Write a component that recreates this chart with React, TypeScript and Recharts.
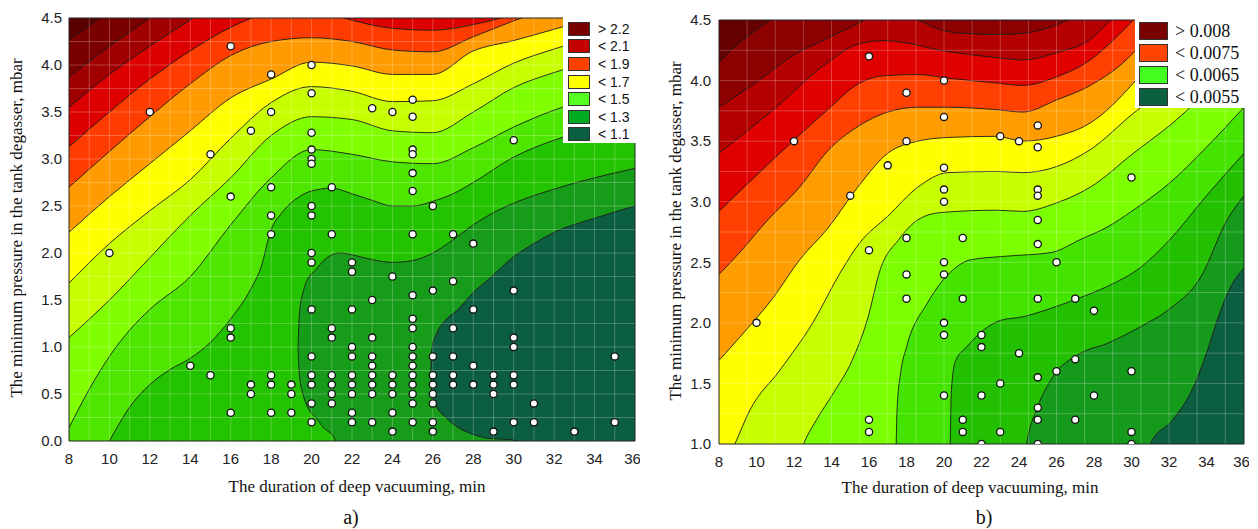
import { ComposedChart, Area, Scatter, XAxis, YAxis, ReferenceLine } from 'recharts'

type Pt = [number, number]
type Rng = [number, number, number]

const xTicks = [8, 10, 12, 14, 16, 18, 20, 22, 24, 26, 28, 30, 32, 34, 36]

// ---------- a) contour lines: [duration, pressure] ----------
const aYTicks = [0, 0.5, 1, 1.5, 2, 2.5, 3, 3.5, 4, 4.5]
const aTop: Pt[] = [[8, 5], [36, 5]]
const aLevel1: Pt[] = [[8, 4.27], [9, 4.42], [10, 4.58], [11, 4.75], [36, 5.3]]
const aLevel2: Pt[] = [[8, 3.87], [10, 4.2], [12, 4.5], [13, 4.66], [36, 5.3]]
const aLevel3: Pt[] = [[8, 3.55], [10, 3.9], [12, 4.2], [14, 4.48], [15, 4.62], [36, 5.3]]
const aLevel4: Pt[] = [[8, 3.13], [10, 3.5], [12, 3.85], [14, 4.15], [16, 4.4], [18, 4.56], [20, 4.6], [21.6, 4.5], [24, 4.39], [26, 4.37], [28, 4.43], [30, 4.54], [32, 4.7], [36, 4.9]]
const aLevel5: Pt[] = [[8, 2.7], [10, 3.08], [12, 3.45], [14, 3.8], [16, 4.1], [18, 4.25], [20, 4.29], [22, 4.25], [24, 4.16], [26, 4.14], [28, 4.3], [30, 4.47], [32, 4.62], [34, 4.75], [36, 4.85]]
const aLevel6: Pt[] = [[8, 2.22], [10, 2.6], [12, 2.95], [14, 3.3], [16, 3.65], [18, 3.85], [20, 4.03], [22, 3.99], [24, 3.9], [26, 3.9], [28, 4.15], [30, 4.26], [32, 4.38], [34, 4.5], [36, 4.6]]
const aLevel7: Pt[] = [[8, 1.68], [10, 2.1], [12, 2.45], [14, 2.78], [16, 3.22], [18, 3.6], [20, 3.77], [22, 3.72], [24, 3.61], [26, 3.62], [28, 3.8], [30, 4.02], [32, 4.17], [34, 4.3], [36, 4.4]]
const aLevel8: Pt[] = [[8, 1.1], [10, 1.5], [12, 1.95], [14, 2.4], [16, 2.8], [18, 3.25], [20, 3.45], [22, 3.42], [24, 3.3], [26, 3.28], [28, 3.5], [30, 3.76], [32, 3.92], [34, 4.05], [36, 4.15]]
const aLevel9: Pt[] = [[8, 0.14], [9, 0.55], [10, 0.9], [11, 1.18], [12, 1.4], [14, 1.75], [16, 2.3], [18, 2.8], [20, 3.1], [22, 3.05], [24, 2.97], [26, 2.95], [28, 3.12], [30, 3.34], [32, 3.52], [34, 3.65], [36, 3.75]]
const aLevel10: Pt[] = [[9, -0.4], [10, 0], [11, 0.36], [12, 0.6], [13, 0.76], [14, 0.88], [15, 1.05], [16, 1.3], [17, 1.62], [17.5, 1.85], [18, 2.25], [18.5, 2.42], [19.4, 2.6], [20, 2.66], [21, 2.69], [22, 2.63], [23, 2.56], [24, 2.5], [25, 2.5], [26, 2.55], [27, 2.63], [28, 2.75], [30, 3.02], [32, 3.2], [34, 3.32], [36, 3.4]]
// closed regions: [duration, low, high]
const aBlob: Rng[] = [[19.33, 1.0, 1.0], [19.4, 0.7, 1.35], [19.6, 0.48, 1.6], [19.8, 0.36, 1.72], [20.2, 0.25, 1.82], [20.6, 0.14, 1.92], [21, 0.07, 1.98], [21.4, -0.05, 2.0], [22, -0.05, 1.98], [23, -0.05, 1.93], [24, -0.05, 1.9], [25, -0.05, 1.92], [26, -0.05, 2.0], [27, -0.05, 2.14], [28, -0.05, 2.3], [29, -0.05, 2.43], [30, -0.05, 2.53], [32, -0.05, 2.68], [34, -0.05, 2.8], [36, -0.05, 2.9]]
const aCore: Rng[] = [[25.9, 0.75, 0.75], [25.95, 0.5, 0.98], [26.2, 0.36, 1.15], [26.6, 0.26, 1.28], [27.2, 0.15, 1.39], [28, 0.07, 1.58], [28.7, 0.03, 1.71], [30, 0.01, 1.96], [31, -0.05, 2.1], [32, -0.05, 2.22], [34, -0.05, 2.37], [36, -0.05, 2.5]]
const aColors = ['#5a0000', '#7a0000', '#a20000', '#dc0000', '#ff3c00', '#ff9a00', '#ffff00', '#c8ff00', '#80ff00', '#4ee600', '#24c300']
const aBlobColors = ['#179c1a', '#0b5e40']

const aPoints: Pt[] = [
  [10, 2.0], [12, 3.5], [14, 0.8], [15, 3.05], [15, 0.7],
  [16, 4.2], [16, 2.6], [16, 1.2], [16, 1.1], [16, 0.3],
  [17, 3.3], [17, 0.6], [17, 0.5],
  [18, 3.9], [18, 3.5], [18, 2.7], [18, 2.4], [18, 2.2], [18, 0.7], [18, 0.6], [18, 0.3],
  [19, 0.6], [19, 0.5], [19, 0.3],
  [20, 4.0], [20, 3.7], [20, 3.28], [20, 3.1], [20, 3.0], [20, 2.95], [20, 2.5], [20, 2.4], [20, 2.0], [20, 1.9], [20, 1.4], [20, 0.9], [20, 0.7], [20, 0.6], [20, 0.4], [20, 0.2],
  [21, 2.7], [21, 2.2], [21, 1.2], [21, 1.1], [21, 0.7], [21, 0.6], [21, 0.5], [21, 0.4],
  [22, 1.9], [22, 1.8], [22, 1.4], [22, 1.0], [22, 0.9], [22, 0.7], [22, 0.6], [22, 0.5], [22, 0.3], [22, 0.2],
  [23, 3.54], [23, 1.5], [23, 1.1], [23, 0.9], [23, 0.8], [23, 0.7], [23, 0.6], [23, 0.5], [23, 0.2],
  [24, 3.5], [24, 1.75], [24, 0.7], [24, 0.6], [24, 0.5], [24, 0.3], [24, 0.1],
  [25, 3.63], [25, 3.45], [25, 3.1], [25, 3.05], [25, 2.85], [25, 2.66], [25, 2.2], [25, 1.55], [25, 1.3], [25, 1.2], [25, 1.0], [25, 0.9], [25, 0.8], [25, 0.7], [25, 0.6], [25, 0.5], [25, 0.4], [25, 0.2],
  [26, 2.5], [26, 1.6], [26, 0.9], [26, 0.7], [26, 0.6], [26, 0.5], [26, 0.4], [26, 0.2], [26, 0.1],
  [27, 2.2], [27, 1.7], [27, 1.2], [27, 0.9], [27, 0.7], [27, 0.6],
  [28, 2.1], [28, 1.4], [28, 0.8], [28, 0.6],
  [29, 0.7], [29, 0.6], [29, 0.5], [29, 0.1],
  [30, 3.2], [30, 1.6], [30, 1.1], [30, 1.0], [30, 0.7], [30, 0.6], [30, 0.2],
  [31, 0.4], [31, 0.2], [33, 0.1], [35, 0.9], [35, 0.2],
]
const aLegendLabels = ['> 2.2', '< 2.1', '< 1.9', '< 1.7', '< 1.5', '< 1.3', '< 1.1']
const aLegendColors = ['#7a0000', '#c40000', '#ff4000', '#ffff00', '#55ff22', '#00aa22', '#0b5e40']

// ---------- b) contour lines ----------
const bYTicks = [1, 1.5, 2, 2.5, 3, 3.5, 4, 4.5]
const bTop: Pt[] = [[8, 5], [36, 5]]
const bLevel1: Pt[] = [[8, 4.15], [9, 4.3], [10, 4.42], [11, 4.53], [12, 4.65], [36, 5.3]]
const bLevel2: Pt[] = [[8, 3.78], [9.65, 3.95], [12.2, 4.23], [13.8, 4.35], [15.4, 4.47], [16.5, 4.55], [17.5, 4.56], [18.6, 4.5], [19.8, 4.42], [21, 4.39], [22.8, 4.38], [24.2, 4.39], [26, 4.46], [27, 4.53], [28, 4.62], [36, 5.2]]
const bLevel3: Pt[] = [[8, 3.4], [10.9, 3.76], [13.8, 4.15], [15.4, 4.3], [16.8, 4.33], [18, 4.31], [19.8, 4.25], [22.8, 4.19], [24.2, 4.17], [26, 4.23], [27.8, 4.34], [28.9, 4.5], [30, 4.65], [36, 5.2]]
const bLevel4: Pt[] = [[8, 2.92], [10.9, 3.35], [13.8, 3.76], [15.4, 3.97], [16.8, 4.04], [18.6, 4.05], [20.2, 4.02], [22.8, 3.98], [24.2, 3.96], [26, 4.03], [27.8, 4.17], [29.2, 4.36], [30.1, 4.5], [31, 4.65], [36, 5.2]]
const bLevel5: Pt[] = [[8, 2.4], [9.1, 2.58], [10.6, 2.85], [12.3, 3.12], [13.8, 3.42], [15.4, 3.62], [17, 3.74], [18.6, 3.78], [20.2, 3.78], [22.8, 3.76], [24.2, 3.74], [26, 3.84], [27.8, 3.96], [30.1, 4.23], [31.1, 4.42], [32, 4.58], [36, 5.1]]
const bLevel6: Pt[] = [[8, 1.69], [9.1, 1.88], [10.9, 2.21], [12.3, 2.52], [13.8, 2.78], [15.4, 3.12], [17, 3.4], [18.6, 3.5], [20.2, 3.53], [22.8, 3.54], [24.2, 3.5], [26, 3.54], [27.8, 3.65], [30.1, 3.98], [31.1, 4.17], [32, 4.35], [33, 4.55], [36, 5.0]]
const bLevel7: Pt[] = [[8, 0.7], [8.85, 1.0], [9.65, 1.28], [11.25, 1.61], [13, 2.0], [14.45, 2.41], [15.5, 2.66], [17, 2.88], [18.6, 3.12], [20.2, 3.24], [22.8, 3.25], [24.2, 3.24], [26, 3.29], [27.8, 3.43], [30.1, 3.73], [32.2, 3.98], [34, 4.25], [36, 4.5]]
const bLevel8: Pt[] = [[12, 0.8], [12.5, 1.0], [13.2, 1.2], [14.1, 1.42], [15.1, 1.69], [15.9, 2.02], [16.6, 2.44], [17.6, 2.69], [18.6, 2.85], [19.8, 2.91], [22.8, 2.93], [24.2, 2.92], [26, 2.99], [27.8, 3.12], [30.1, 3.4], [32.2, 3.65], [34, 3.9], [36, 4.15]]
const bLevel9: Pt[] = [[17.4, 0.6], [17.45, 1.0], [17.5, 1.3], [17.7, 1.6], [18, 1.8], [19.1, 2.16], [20.5, 2.44], [21.4, 2.52], [23.3, 2.55], [25.7, 2.58], [27.3, 2.69], [28.7, 2.79], [30, 2.92], [32, 3.15], [34, 3.45], [36, 3.78]]
const bLevel10: Pt[] = [[20.3, 0.7], [20.33, 1.0], [20.4, 1.45], [20.6, 1.68], [21.2, 1.8], [23, 2.02], [24.2, 2.05], [25.7, 2.12], [27.3, 2.21], [28.7, 2.3], [30.5, 2.46], [32, 2.68], [34, 3.05], [36, 3.4]]
const bLevel11: Pt[] = [[24.2, 0.8], [24.4, 1.0], [25, 1.31], [25.7, 1.53], [27.3, 1.75], [28.7, 1.83], [30.5, 1.97], [31.9, 2.1], [33.7, 2.38], [35.1, 2.85], [36, 3.05]]
const bLevel12: Pt[] = [[30.6, 0.8], [31, 1.0], [32.2, 1.2], [33.3, 1.47], [34, 1.75], [34.7, 2.08], [35.4, 2.33], [36, 2.45]]
const bColors = ['#660000', '#8c0000', '#b40000', '#e00000', '#ff4000', '#ff9c00', '#ffff00', '#c8ff00', '#7cff00', '#44e400', '#22c000', '#159a1c', '#0b5e40']

const bPoints: Pt[] = [
  [10, 2.0], [12, 3.5], [15, 3.05],
  [16, 4.2], [16, 2.6], [16, 1.2], [16, 1.1], [17, 3.3],
  [18, 3.9], [18, 3.5], [18, 2.7], [18, 2.4], [18, 2.2],
  [20, 4.0], [20, 3.7], [20, 3.28], [20, 3.1], [20, 3.0], [20, 2.5], [20, 2.4], [20, 2.0], [20, 1.9], [20, 1.4],
  [21, 2.7], [21, 2.2], [21, 1.2], [21, 1.1],
  [22, 1.9], [22, 1.8], [22, 1.4], [22, 1.0],
  [23, 3.54], [23, 1.5], [23, 1.1], [24, 3.5], [24, 1.75],
  [25, 3.63], [25, 3.45], [25, 3.1], [25, 3.05], [25, 2.85], [25, 2.65], [25, 2.2], [25, 1.55], [25, 1.3], [25, 1.2], [25, 1.0],
  [26, 2.5], [26, 1.6], [27, 2.2], [27, 1.7], [27, 1.2], [28, 2.1], [28, 1.4],
  [30, 3.2], [30, 1.6], [30, 1.1], [30, 1.0],
]
const bLegendLabels = ['> 0.008', '< 0.0075', '< 0.0065', '< 0.0055']
const bLegendColors = ['#7a0000', '#ff4500', '#44ff22', '#0b6040']

const SANS = '"Liberation Sans", Arial, sans-serif'
const SERIF = '"Liberation Serif", "Times New Roman", serif'

const toXY = (pts: Pt[]) => pts.map(([x, y]) => ({ x, y }))
const toRange = (pts: Rng[]) => pts.map(([x, lo, hi]) => ({ x, lo, hi }))

const Dot = (p: any) => (
  <circle cx={p.cx} cy={p.cy} r={3.6} fill="#fff" stroke="#111" strokeWidth={1.3} />
)

interface PanelProps {
  width: number
  margin: { top: number; right: number; bottom: number; left: number }
  lines: Pt[][]
  colors: string[]
  blobs: Rng[][]
  blobColors: string[]
  points: Pt[]
  yDomain: [number, number]
  yTicks: number[]
  gridX: number[]
  gridY: number[]
  yTickMargin: number
}

function Panel({ width, margin, lines, colors, blobs, blobColors, points, yDomain, yTicks, gridX, gridY, yTickMargin }: PanelProps) {
  return (
    <ComposedChart width={width} height={529} margin={margin}>
      <XAxis
        type="number"
        dataKey="x"
        domain={[8, 36]}
        ticks={xTicks}
        allowDataOverflow
        height={30}
        tickLine={false}
        tickSize={6}
        tickMargin={6}
        axisLine={{ stroke: '#222' }}
        tick={{ fontSize: 15, fill: '#222', fontFamily: SANS }}
      />
      <YAxis
        type="number"
        domain={yDomain}
        ticks={yTicks}
        allowDataOverflow
        width={40}
        tickLine={false}
        tickSize={6}
        tickMargin={yTickMargin}
        axisLine={{ stroke: '#222' }}
        tick={{ fontSize: 15, fill: '#222', fontFamily: SANS }}
        tickFormatter={(v: number) => v.toFixed(1)}
      />
      {lines.map((line, i) => (
        <Area
          key={'l' + i}
          data={toXY(line)}
          dataKey="y"
          type="monotone"
          baseValue={yDomain[0] - 1}
          fill={colors[i]}
          fillOpacity={1}
          stroke={i === 0 ? 'none' : '#1b1b1b'}
          strokeWidth={0.9}
          dot={false}
          activeDot={false}
          isAnimationActive={false}
        />
      ))}
      {blobs.map((blob, i) => (
        <Area
          key={'b' + i}
          data={toRange(blob)}
          dataKey={(d: any) => [d.lo, d.hi]}
          type="monotone"
          fill={blobColors[i]}
          fillOpacity={1}
          stroke="#1b1b1b"
          strokeWidth={0.9}
          dot={false}
          activeDot={false}
          isAnimationActive={false}
        />
      ))}
      {gridX.map((x) => (
        <ReferenceLine key={'gx' + x} x={x} stroke="#ffffff" strokeOpacity={0.3} strokeWidth={0.8} />
      ))}
      {gridY.map((y) => (
        <ReferenceLine key={'gy' + y} y={y} stroke="#ffffff" strokeOpacity={0.3} strokeWidth={0.8} />
      ))}
      <ReferenceLine x={36} stroke="#222" strokeWidth={1} />
      <ReferenceLine y={yDomain[1]} stroke="#222" strokeWidth={1} />
      <Scatter data={toXY(points)} dataKey="y" shape={Dot} isAnimationActive={false} />
    </ComposedChart>
  )
}

interface LegendProps {
  left: number
  top: number
  width: number
  height: number
  labels: string[]
  colors: string[]
  swW: number
  swH: number
  rowH: number
  padTop: number
  padLeft: number
  gap: number
  font: string
  size: number
}

function LegendBox({ left, top, width, height, labels, colors, swW, swH, rowH, padTop, padLeft, gap, font, size }: LegendProps) {
  return (
    <div style={{ position: 'absolute', left, top, width, height, background: '#fff' }}>
      {labels.map((lab, i) => (
        <div
          key={lab}
          style={{
            position: 'absolute',
            left: padLeft,
            top: padTop + i * rowH,
            height: rowH,
            display: 'flex',
            alignItems: 'center',
            whiteSpace: 'nowrap',
          }}
        >
          <div style={{ width: swW, height: swH, background: colors[i], border: '1px solid #333', boxSizing: 'border-box' }} />
          <span style={{ marginLeft: gap, fontFamily: font, fontSize: size, color: '#111' }}>{lab}</span>
        </div>
      ))}
    </div>
  )
}

const range = (a: number, b: number, s: number) => {
  const out: number[] = []
  for (let v = a; v <= b + 1e-9; v += s) out.push(Math.round(v * 100) / 100)
  return out
}

export default function App() {
  const yTitle = 'The minimum pressure in the tank degasser, mbar'
  const xTitle = 'The duration of deep vacuuming, min'
  return (
    <div style={{ position: 'absolute', left: 0, top: 0, width: 1258, height: 529, background: '#fff', overflow: 'hidden' }}>
      <div style={{ position: 'absolute', left: 0, top: 0 }}>
        <Panel
          width={640}
          margin={{ top: 18, right: 5, bottom: 58, left: 29 }}
          lines={[aTop, aLevel1, aLevel2, aLevel3, aLevel4, aLevel5, aLevel6, aLevel7, aLevel8, aLevel9, aLevel10]}
          colors={aColors}
          blobs={[aBlob, aCore]}
          blobColors={aBlobColors}
          points={aPoints}
          yDomain={[0, 4.5]}
          yTicks={aYTicks}
          gridX={range(9, 35, 1)}
          gridY={range(0.25, 4.25, 0.25)}
          yTickMargin={1}
        />
      </div>
      <div style={{ position: 'absolute', left: 640, top: 0 }}>
        <Panel
          width={609}
          margin={{ top: 20, right: 5, bottom: 55, left: 39 }}
          lines={[bTop, bLevel1, bLevel2, bLevel3, bLevel4, bLevel5, bLevel6, bLevel7, bLevel8, bLevel9, bLevel10, bLevel11, bLevel12]}
          colors={bColors}
          blobs={[]}
          blobColors={[]}
          points={bPoints}
          yDomain={[1, 4.5]}
          yTicks={bYTicks}
          gridX={range(9.5, 35, 1.5)}
          gridY={range(1.25, 4.25, 0.25)}
          yTickMargin={2}
        />
      </div>

      <LegendBox
        left={563} top={17} width={77} height={126}
        labels={aLegendLabels} colors={aLegendColors}
        swW={22} swH={14} rowH={17.6} padTop={3} padLeft={5} gap={8}
        font={SANS} size={14}
      />
      <LegendBox
        left={1135} top={19} width={110} height={89}
        labels={bLegendLabels} colors={bLegendColors}
        swW={29} swH={18} rowH={22} padTop={1} padLeft={4} gap={7}
        font={SERIF} size={18}
      />

      <div style={{ position: 'absolute', left: 17, top: 228, transform: 'translate(-50%, -50%) rotate(-90deg)', whiteSpace: 'nowrap', fontFamily: SERIF, fontSize: 17, color: '#111' }}>
        {yTitle}
      </div>
      <div style={{ position: 'absolute', left: 676, top: 231, transform: 'translate(-50%, -50%) rotate(-90deg)', whiteSpace: 'nowrap', fontFamily: SERIF, fontSize: 17, color: '#111' }}>
        {yTitle}
      </div>
      <div style={{ position: 'absolute', left: 357, top: 487, transform: 'translate(-50%, -50%)', whiteSpace: 'nowrap', fontFamily: SERIF, fontSize: 17, color: '#111' }}>
        {xTitle}
      </div>
      <div style={{ position: 'absolute', left: 970, top: 488, transform: 'translate(-50%, -50%)', whiteSpace: 'nowrap', fontFamily: SERIF, fontSize: 17, color: '#111' }}>
        {xTitle}
      </div>
      <div style={{ position: 'absolute', left: 351, top: 517, transform: 'translate(-50%, -50%)', fontFamily: SERIF, fontSize: 20, color: '#111' }}>
        a)
      </div>
      <div style={{ position: 'absolute', left: 984, top: 517, transform: 'translate(-50%, -50%)', fontFamily: SERIF, fontSize: 20, color: '#111' }}>
        b)
      </div>
    </div>
  )
}
